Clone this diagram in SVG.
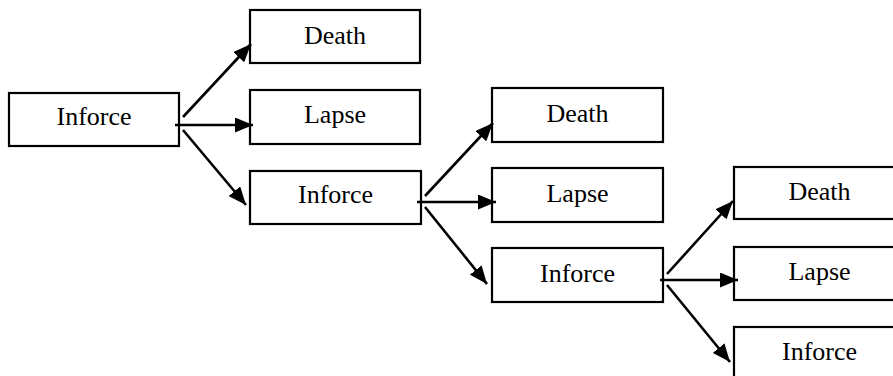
<svg xmlns="http://www.w3.org/2000/svg" width="893" height="376" viewBox="0 0 893 376">
<style>
.box{fill:#fff;stroke:#000;stroke-width:2.2}
text{font-family:'Liberation Serif','Times New Roman',Times,serif;font-size:26px;fill:#000;text-anchor:middle}
.arr{stroke:#000;stroke-width:2.6;fill:none;marker-end:url(#ah)}
</style>
<defs>
<marker id="ah" markerUnits="userSpaceOnUse" markerWidth="19" markerHeight="15" refX="18" refY="7.5" orient="auto">
<path d="M0,0 L18,7.5 L0,15 z" fill="#000"/>
</marker>
</defs>
<rect width="893" height="376" fill="#fff"/>
<g id="inforce1"><rect class="box" x="9" y="93" width="170" height="53"/><text x="94" y="125" font-family="Liberation Serif, serif">Inforce</text></g>
<g id="death1"><rect class="box" x="250" y="10" width="170" height="53"/><text x="335" y="44" font-family="Liberation Serif, serif">Death</text></g>
<g id="lapse1"><rect class="box" x="250" y="90" width="170" height="54"/><text x="335" y="123" font-family="Liberation Serif, serif">Lapse</text></g>
<g id="inforce2"><rect class="box" x="250" y="171" width="171" height="53"/><text x="335.5" y="203" font-family="Liberation Serif, serif">Inforce</text></g>
<g id="death2"><rect class="box" x="492" y="88" width="171" height="54"/><text x="577.5" y="122" font-family="Liberation Serif, serif">Death</text></g>
<g id="lapse2"><rect class="box" x="492" y="168" width="171" height="54"/><text x="577.5" y="202" font-family="Liberation Serif, serif">Lapse</text></g>
<g id="inforce3"><rect class="box" x="492" y="248" width="171" height="54"/><text x="577.5" y="282" font-family="Liberation Serif, serif">Inforce</text></g>
<g id="death3"><rect class="box" x="734" y="167" width="171" height="52"/><text x="819.5" y="200" font-family="Liberation Serif, serif">Death</text></g>
<g id="lapse3"><rect class="box" x="734" y="247" width="171" height="53"/><text x="819.5" y="280" font-family="Liberation Serif, serif">Lapse</text></g>
<g id="inforce4"><rect class="box" x="734" y="327" width="171" height="53"/><text x="819.5" y="360" font-family="Liberation Serif, serif">Inforce</text></g>
<g id="connectors">
<line class="arr" x1="175" y1="125" x2="253" y2="125"/>
<line class="arr" x1="183" y1="117" x2="251" y2="44"/>
<line class="arr" x1="183" y1="130" x2="246" y2="205"/>
<line class="arr" x1="417" y1="202" x2="496" y2="202"/>
<line class="arr" x1="425" y1="196" x2="493" y2="123"/>
<line class="arr" x1="425" y1="207" x2="487" y2="284"/>
<line class="arr" x1="660" y1="280" x2="738" y2="280"/>
<line class="arr" x1="667" y1="274" x2="733" y2="201"/>
<line class="arr" x1="667" y1="285" x2="730" y2="362"/>
</g>
</svg>
